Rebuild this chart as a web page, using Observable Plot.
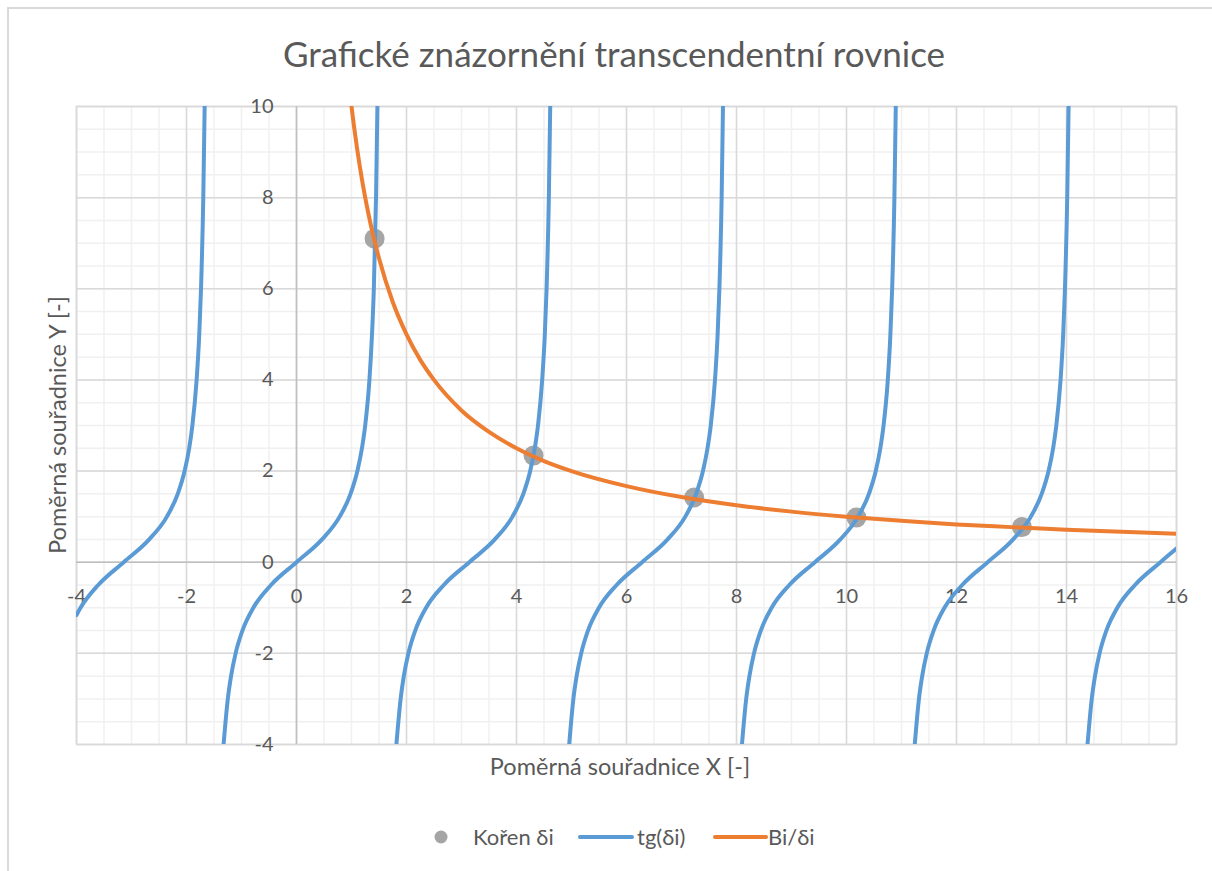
<!DOCTYPE html>
<html>
<head>
<meta charset="utf-8">
<script src="https://cdn.jsdelivr.net/npm/d3@7"></script>
<script src="https://cdn.jsdelivr.net/npm/@observablehq/plot@0.6"></script>
<style>
  html, body { margin: 0; padding: 0; background: #fff; }
  body { width: 1212px; height: 871px; position: relative; overflow: hidden; font-family: Lato, "Open Sans", sans-serif; color: #595959; }
  #frame { position: absolute; left: 7px; top: 7px; width: 1400px; height: 1000px; border: 2px solid #d9d9d9; box-sizing: border-box; }
  #chart { position: absolute; left: 0; top: 0; }
  .t { position: absolute; white-space: nowrap; line-height: 1; transform: translate(-50%, -50%); }
  #title { left: 614px; top: 53px; font-size: 35px; }
  #xtitle { left: 620px; top: 767px; font-size: 23.5px; }
  #ytitle { left: 58px; top: 425px; font-size: 23.5px; transform: translate(-50%, -50%) rotate(-90deg); }
  #legend { position: absolute; left: 0; top: 0; }
  .lt { position: absolute; white-space: nowrap; line-height: 1; transform: translateY(-50%); font-size: 22px; }
</style>
</head>
<body>
<div id="frame"></div>
<div id="chart"></div>
<div class="t" id="title">Grafické znázornění transcendentní rovnice</div>
<div class="t" id="xtitle">Poměrná souřadnice X [-]</div>
<div class="t" id="ytitle">Poměrná souřadnice Y [-]</div>
<svg id="legend" width="1212" height="871" style="position:absolute;left:0;top:0;pointer-events:none">
  <circle cx="441" cy="837" r="6.5" fill="#a5a5a5"></circle>
  <line x1="580" y1="837" x2="632" y2="837" stroke="#5b9bd5" stroke-width="4" stroke-linecap="round"></line>
  <line x1="715" y1="837" x2="766" y2="837" stroke="#ed7d31" stroke-width="4" stroke-linecap="round"></line>
</svg>
<div class="lt" style="left:473px;top:837px">Kořen δi</div>
<div class="lt" style="left:637px;top:837px">tg(δi)</div>
<div class="lt" style="left:768px;top:837px">Bi/δi</div>
<script>
// ---- data ----
const xTicks = [-4, -2, 0, 2, 4, 6, 8, 10, 12, 14, 16];
const yTicks = [-4, -2, 0, 2, 4, 6, 8, 10];

// roots δi (intersection points)
const rootX = [1.42, 4.31, 7.23, 10.18, 13.19];
const rootY = [7.1, 2.34, 1.42, 0.98, 0.77];

// tg(δi) branches, [x, y]
const tgBranchA = [[-4.0,-1.16],[-3.927,-1],[-3.605,-0.5],[-3.142,0],[-2.678,0.5],[-2.356,1],[-2.159,1.5],[-2.034,2],[-1.951,2.5],[-1.893,3],[-1.816,4],[-1.768,5],[-1.736,6],[-1.695,8],[-1.670,10]];
const tgBranchB = [[-1.326,-4],[-1.249,-3],[-1.190,-2.5],[-1.107,-2],[-0.983,-1.5],[-0.785,-1],[-0.464,-0.5],[0,0],[0.464,0.5],[0.785,1],[0.983,1.5],[1.107,2],[1.190,2.5],[1.249,3],[1.326,4],[1.373,5],[1.406,6],[1.446,8],[1.471,10]];
const tgBranchC = [[1.816,-4],[1.893,-3],[1.951,-2.5],[2.034,-2],[2.159,-1.5],[2.356,-1],[2.678,-0.5],[3.142,0],[3.605,0.5],[3.927,1],[4.124,1.5],[4.249,2],[4.332,2.5],[4.391,3],[4.467,4],[4.515,5],[4.547,6],[4.588,8],[4.613,10]];
const tgBranchD = [[4.958,-4],[5.034,-3],[5.093,-2.5],[5.176,-2],[5.300,-1.5],[5.498,-1],[5.820,-0.5],[6.283,0],[6.747,0.5],[7.069,1],[7.266,1.5],[7.390,2],[7.473,2.5],[7.532,3],[7.609,4],[7.657,5],[7.689,6],[7.730,8],[7.754,10]];
const tgBranchE = [[8.099,-4],[8.176,-3],[8.235,-2.5],[8.318,-2],[8.442,-1.5],[8.639,-1],[8.961,-0.5],[9.425,0],[9.888,0.5],[10.210,1],[10.408,1.5],[10.532,2],[10.615,2.5],[10.674,3],[10.751,4],[10.798,5],[10.830,6],[10.871,8],[10.896,10]];
const tgBranchF = [[11.241,-4],[11.317,-3],[11.376,-2.5],[11.459,-2],[11.584,-1.5],[11.781,-1],[12.103,-0.5],[12.566,0],[13.030,0.5],[13.352,1],[13.549,1.5],[13.674,2],[13.757,2.5],[13.815,3],[13.892,4],[13.940,5],[13.972,6],[14.013,8],[14.038,10]];
const tgBranchG = [[14.382,-4],[14.459,-3],[14.518,-2.5],[14.601,-2],[14.725,-1.5],[14.923,-1],[15.245,-0.5],[15.708,0],[16.0,0.30]];

// Bi/δi curve, [x, y]
const biCurve = [[0.95,10.53],[1.0,10],[1.1,9.09],[1.2,8.33],[1.3,7.69],[1.4,7.14],[1.5,6.67],[1.75,5.71],[2,5],[2.25,4.44],[2.5,4],[3,3.33],[3.5,2.86],[4,2.5],[4.5,2.22],[5,2],[6,1.67],[7,1.43],[8,1.25],[9,1.11],[10,1],[11,0.91],[12,0.83],[13,0.77],[14,0.71],[15,0.67],[16,0.625]];

// ---- build tables ----
const tgData = [tgBranchA, tgBranchB, tgBranchC, tgBranchD, tgBranchE, tgBranchF, tgBranchG]
  .flatMap((br, i) => br.map(([x, y]) => ({x, y, branch: i})));
const biData = biCurve.map(([x, y]) => ({x, y}));
const roots = rootX.map((x, i) => ({x, y: rootY[i]}));

const minorX = d3.range(-4, 16.001, 0.5);
const minorY = d3.range(-4, 10.001, 0.5);

const chart = Plot.plot({
  width: 1212,
  height: 871,
  marginTop: 106,
  marginBottom: 127,
  marginLeft: 76,
  marginRight: 36,
  x: {domain: [-4, 16], axis: null},
  y: {domain: [-4, 10], axis: null},
  style: {background: "transparent", fontFamily: "Lato, 'Open Sans', sans-serif"},
  marks: [
    Plot.ruleX(minorX, {stroke: "#f0f0f0", strokeWidth: 1.5}),
    Plot.ruleY(minorY, {stroke: "#f0f0f0", strokeWidth: 1.5}),
    Plot.ruleX(xTicks, {stroke: "#d9d9d9", strokeWidth: 1.5}),
    Plot.ruleY(yTicks, {stroke: "#d9d9d9", strokeWidth: 1.5}),
    Plot.frame({stroke: "#d9d9d9", strokeWidth: 1.5}),
    Plot.ruleX([0], {stroke: "#bfbfbf", strokeWidth: 1.5}),
    Plot.ruleY([0], {stroke: "#bfbfbf", strokeWidth: 1.5}),
    Plot.text(yTicks, {x: 0, y: d => d, text: d => String(d), textAnchor: "end", dx: -23, fontSize: 20, fill: "#595959"}),
    Plot.text(xTicks, {x: d => d, y: 0, text: d => String(d), dy: 34, fontSize: 20, fill: "#595959"}),
    Plot.dot(roots, {x: "x", y: "y", r: 10, fill: "#a5a5a5", stroke: "none"}),
    Plot.line(tgData, {x: "x", y: "y", z: "branch", stroke: "#5b9bd5", strokeWidth: 4, curve: "monotone-x", clip: true}),
    Plot.line(biData, {x: "x", y: "y", stroke: "#ed7d31", strokeWidth: 4, curve: "monotone-x", clip: true})
  ]
});
document.getElementById("chart").appendChild(chart);
</script>
</body>
</html>
